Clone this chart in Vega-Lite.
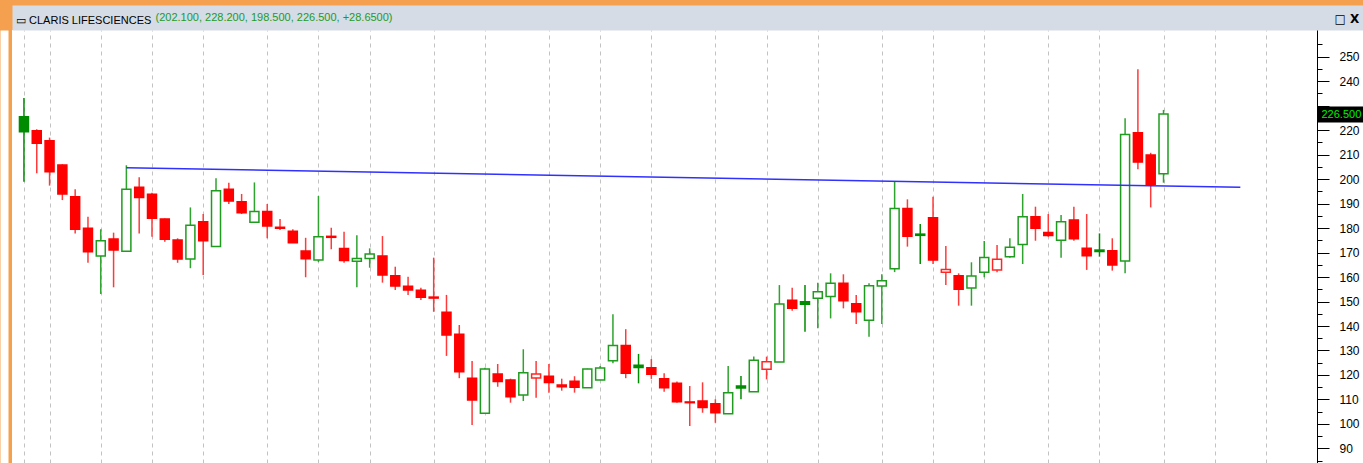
{
  "$schema": "https://vega.github.io/schema/vega-lite/v6.json",
  "width": 1351,
  "height": 433,
  "autosize": {"type": "none"},
  "padding": {"left": 12, "top": 30, "right": 0, "bottom": 0},
  "background": "#f5a04f",
  "config": {"view": {"fill": "white", "stroke": null}},
  "title": {
    "text": "▭ CLARIS LIFESCIENCES",
    "anchor": "start",
    "frame": "group",
    "orient": "top",
    "font": "'Liberation Sans', Arial, sans-serif",
    "fontSize": 11,
    "fontWeight": "normal",
    "color": "#000000",
    "baseline": "middle",
    "offset": 0,
    "dx": 4,
    "dy": 20
  },
  "datasets": {
    "candles": [
      {"i":0,"open":225.4,"high":233.1,"low":198.9,"close":219.3},
      {"i":1,"open":219.7,"high":220.3,"low":202.3,"close":214.6},
      {"i":2,"open":215.6,"high":216.9,"low":197.3,"close":203.0},
      {"i":3,"open":205.7,"high":206.0,"low":191.4,"close":193.9},
      {"i":4,"open":192.8,"high":195.8,"low":177.8,"close":179.5},
      {"i":5,"open":179.9,"high":184.6,"low":165.8,"close":170.3},
      {"i":6,"open":168.6,"high":179.5,"low":153.1,"close":174.8},
      {"i":7,"open":175.5,"high":178.1,"low":155.8,"close":171.0},
      {"i":8,"open":170.5,"high":205.6,"low":170.5,"close":195.8},
      {"i":9,"open":196.6,"high":200.7,"low":177.8,"close":192.5},
      {"i":10,"open":193.8,"high":194.4,"low":176.4,"close":184.0},
      {"i":11,"open":183.7,"high":183.9,"low":174.4,"close":175.4},
      {"i":12,"open":175.1,"high":175.8,"low":165.8,"close":167.3},
      {"i":13,"open":167.3,"high":188.4,"low":163.6,"close":181.1},
      {"i":14,"open":182.6,"high":185.7,"low":160.8,"close":174.8},
      {"i":15,"open":172.4,"high":200.3,"low":172.4,"close":195.2},
      {"i":16,"open":195.8,"high":198.5,"low":189.8,"close":191.0},
      {"i":17,"open":190.7,"high":193.9,"low":185.7,"close":186.2},
      {"i":18,"open":182.3,"high":198.6,"low":182.3,"close":186.7},
      {"i":19,"open":186.7,"high":189.8,"low":175.8,"close":180.8},
      {"i":20,"open":180.3,"high":183.7,"low":179.2,"close":179.9},
      {"i":21,"open":178.7,"high":179.5,"low":174.0,"close":174.0},
      {"i":22,"open":170.6,"high":176.0,"low":159.9,"close":167.5},
      {"i":23,"open":166.9,"high":193.1,"low":166.1,"close":176.4},
      {"i":24,"open":176.6,"high":180.1,"low":171.3,"close":176.2},
      {"i":25,"open":171.6,"high":178.5,"low":165.8,"close":166.7},
      {"i":26,"open":166.4,"high":177.0,"low":155.8,"close":167.6},
      {"i":27,"open":167.6,"high":171.7,"low":163.8,"close":169.4},
      {"i":28,"open":168.6,"high":176.7,"low":157.7,"close":160.8},
      {"i":29,"open":160.5,"high":164.2,"low":154.7,"close":156.3},
      {"i":30,"open":156.2,"high":160.1,"low":152.7,"close":154.7},
      {"i":31,"open":154.6,"high":155.6,"low":150.6,"close":151.7},
      {"i":32,"open":151.8,"high":167.9,"low":145.8,"close":151.4},
      {"i":33,"open":145.6,"high":152.7,"low":127.8,"close":136.3},
      {"i":34,"open":136.6,"high":140.4,"low":118.7,"close":121.3},
      {"i":35,"open":118.7,"high":125.7,"low":99.6,"close":109.8},
      {"i":36,"open":104.4,"high":123.0,"low":104.4,"close":122.4},
      {"i":37,"open":120.4,"high":124.5,"low":115.2,"close":117.3},
      {"i":38,"open":118.0,"high":118.5,"low":108.7,"close":111.1},
      {"i":39,"open":111.8,"high":130.5,"low":109.4,"close":120.9},
      {"i":40,"open":118.8,"high":125.7,"low":110.7,"close":120.4},
      {"i":41,"open":119.5,"high":124.5,"low":112.8,"close":116.9},
      {"i":42,"open":115.9,"high":118.5,"low":113.6,"close":115.2},
      {"i":43,"open":117.4,"high":119.5,"low":112.8,"close":115.0},
      {"i":44,"open":114.8,"high":122.6,"low":114.8,"close":122.4},
      {"i":45,"open":118.0,"high":123.7,"low":118.0,"close":122.9},
      {"i":46,"open":125.8,"high":144.8,"low":124.8,"close":132.0},
      {"i":47,"open":132.0,"high":138.7,"low":118.7,"close":120.7},
      {"i":48,"open":124.0,"high":128.6,"low":116.6,"close":123.1},
      {"i":49,"open":123.0,"high":126.5,"low":118.4,"close":120.3},
      {"i":50,"open":118.5,"high":120.7,"low":113.2,"close":114.8},
      {"i":51,"open":116.6,"high":117.3,"low":108.7,"close":109.1},
      {"i":52,"open":109.0,"high":115.5,"low":99.2,"close":108.7},
      {"i":53,"open":109.4,"high":117.0,"low":104.6,"close":106.7},
      {"i":54,"open":108.3,"high":110.1,"low":100.5,"close":104.6},
      {"i":55,"open":104.2,"high":123.7,"low":104.2,"close":112.8},
      {"i":56,"open":115.5,"high":119.6,"low":110.1,"close":114.7},
      {"i":57,"open":113.2,"high":127.5,"low":113.2,"close":126.0},
      {"i":58,"open":122.3,"high":127.5,"low":118.2,"close":125.4},
      {"i":59,"open":125.3,"high":156.7,"low":125.3,"close":149.0},
      {"i":60,"open":150.5,"high":155.6,"low":146.2,"close":147.2},
      {"i":61,"open":149.9,"high":156.7,"low":137.7,"close":148.9},
      {"i":62,"open":151.3,"high":157.7,"low":139.1,"close":154.0},
      {"i":63,"open":152.0,"high":161.5,"low":143.1,"close":157.4},
      {"i":64,"open":157.4,"high":161.1,"low":147.2,"close":150.3},
      {"i":65,"open":149.1,"high":152.7,"low":140.8,"close":145.8},
      {"i":66,"open":142.3,"high":157.4,"low":135.6,"close":156.4},
      {"i":67,"open":156.3,"high":161.1,"low":140.8,"close":158.5},
      {"i":68,"open":163.4,"high":198.9,"low":162.0,"close":188.0},
      {"i":69,"open":188.0,"high":191.7,"low":172.4,"close":176.6},
      {"i":70,"open":177.5,"high":181.6,"low":165.3,"close":177.0},
      {"i":71,"open":184.2,"high":192.8,"low":165.3,"close":166.9},
      {"i":72,"open":161.9,"high":172.7,"low":156.7,"close":163.1},
      {"i":73,"open":160.5,"high":161.5,"low":148.3,"close":155.0},
      {"i":74,"open":155.5,"high":166.0,"low":148.3,"close":160.4},
      {"i":75,"open":161.9,"high":174.7,"low":159.9,"close":168.0},
      {"i":76,"open":162.9,"high":173.1,"low":161.9,"close":167.2},
      {"i":77,"open":168.3,"high":175.8,"low":167.9,"close":172.1},
      {"i":78,"open":173.3,"high":193.9,"low":165.3,"close":184.6},
      {"i":79,"open":184.6,"high":188.7,"low":174.8,"close":179.9},
      {"i":80,"open":178.2,"high":185.7,"low":176.4,"close":176.9},
      {"i":81,"open":175.0,"high":185.3,"low":167.9,"close":182.6},
      {"i":82,"open":183.3,"high":188.7,"low":174.8,"close":175.6},
      {"i":83,"open":171.7,"high":185.7,"low":162.9,"close":168.7},
      {"i":84,"open":171.0,"high":177.8,"low":168.3,"close":170.4},
      {"i":85,"open":170.7,"high":175.8,"low":162.6,"close":164.9},
      {"i":86,"open":166.5,"high":224.8,"low":161.5,"close":218.2},
      {"i":87,"open":218.9,"high":244.8,"low":204.0,"close":206.9},
      {"i":88,"open":209.8,"high":210.7,"low":188.4,"close":197.85},
      {"i":89,"open":202.1,"high":228.2,"low":198.5,"close":226.5}
    ],
    "trend": [
      {"i": 8, "v": 204.6},
      {"i": 95, "v": 196.6}
    ]
  },
  "data": {"name": "candles"},
  "transform": [
    {"window": [{"op": "lag", "field": "close", "as": "prev"}], "sort": [{"field": "i", "order": "ascending"}]},
    {"calculate": "(datum.close >= datum.open ? 'up' : 'dn') + (datum.prev == null || datum.close >= datum.prev ? 'G' : 'R')", "as": "kind"}
  ],
  "encoding": {
    "x": {
      "field": "i",
      "type": "quantitative",
      "scale": {"domain": [-0.543, 104.19], "nice": false, "zero": false},
      "axis": {
        "orient": "top",
        "values": [0, 2, 6, 10, 14, 19, 23, 27, 32, 36, 41, 45, 49, 54, 58, 62, 67, 71, 75, 80, 84, 89, 93, 97],
        "labels": false,
        "ticks": false,
        "grid": true,
        "gridColor": "#c2c2c2",
        "gridDash": [4, 4],
        "gridWidth": 1,
        "domain": true,
        "domainColor": "#d5dce6",
        "domainWidth": 25,
        "offset": 12.5,
        "title": "(202.100, 228.200, 198.500, 226.500, +28.6500)",
        "titleColor": "#1e9a1e",
        "titleFont": "'Liberation Sans', Arial, sans-serif",
        "titleFontSize": 11,
        "titleFontWeight": "normal",
        "titleAngle": 0,
        "titleAlign": "left",
        "titleBaseline": "middle",
        "titleX": 143,
        "titleY": 0
      }
    }
  },
  "layer": [
    {
      "mark": {"type": "rule", "strokeWidth": 1.5},
      "encoding": {
        "y": {
          "field": "low",
          "type": "quantitative",
          "scale": {"domain": [84.08, 260.82], "nice": false, "zero": false},
          "axis": {
            "orient": "right",
            "offset": -46,
            "values": [85, 90, 95, 100, 105, 110, 115, 120, 125, 130, 135, 140, 145, 150, 155, 160, 165, 170, 175, 180, 185, 190, 195, 200, 205, 210, 215, 220, 225, 230, 235, 240, 245, 250, 255, 226.5],
            "domain": true,
            "domainColor": "#000000",
            "domainWidth": 1,
            "grid": false,
            "ticks": true,
            "tickColor": "#000000",
            "tickWidth": {"condition": {"test": "datum.value == 226.5", "value": 16}, "value": 1},
            "tickSize": {"condition": [{"test": "datum.value == 226.5", "value": 46}, {"test": "datum.value % 10 == 0", "value": 12}], "value": 5},
            "labelPadding": {"condition": [{"test": "datum.value == 226.5", "value": -42}, {"test": "datum.value % 10 == 0", "value": 10}], "value": 17},
            "labelColor": {"condition": {"test": "datum.value == 226.5", "value": "#00f000"}, "value": "#000000"},
            "labelFontSize": {"condition": {"test": "datum.value == 226.5", "value": 11}, "value": 12},
            "labelFont": "'Liberation Sans', Arial, sans-serif",
            "labelAlign": "left",
            "labelOverlap": false,
            "labelFlush": false,
            "labelExpr": "datum.value == 226.5 ? '226.500' : (datum.value % 10 == 0 && datum.value != 230 ? format(datum.value, 'd') : '')",
            "title": null
          }
        },
        "y2": {"field": "high"},
        "color": {
          "field": "kind",
          "type": "nominal",
          "scale": {"domain": ["upG", "upR", "dnG", "dnR"], "range": ["#2ea32e", "#ff3a3a", "#008c00", "#ff3a3a"]},
          "legend": null
        }
      }
    },
    {
      "mark": {"type": "bar", "width": 9, "strokeWidth": 1.5},
      "encoding": {
        "y": {
          "field": "open",
          "type": "quantitative",
          "scale": {"domain": [84.08, 260.82], "nice": false, "zero": false},
          "axis": {
            "orient": "left",
            "offset": 8,
            "domain": true,
            "domainColor": "#ffffff",
            "domainWidth": 8,
            "ticks": false,
            "labels": false,
            "grid": false,
            "title": "□ X",
            "titleColor": "#000000",
            "titleFont": "DejaVu Sans",
            "titleFontSize": 12,
            "titleFontWeight": "bold",
            "titleAngle": 0,
            "titleAlign": "left",
            "titleBaseline": "middle",
            "titleX": 1330,
            "titleY": -12
          }
        },
        "y2": {"field": "close"},
        "fill": {
          "field": "kind",
          "type": "nominal",
          "scale": {"domain": ["upG", "upR", "dnG", "dnR"], "range": ["#ffffff", "#ffffff", "#008c00", "#ff0000"]},
          "legend": null
        },
        "stroke": {
          "field": "kind",
          "type": "nominal",
          "scale": {"domain": ["upG", "upR", "dnG", "dnR"], "range": ["#1f9c1f", "#ff2626", "#008c00", "#ff0000"]},
          "legend": null
        }
      }
    },
    {
      "data": {"name": "trend"},
      "mark": {"type": "line", "color": "#3030ff", "strokeWidth": 1.5},
      "encoding": {
        "y": {
          "field": "v",
          "type": "quantitative",
          "scale": {"domain": [84.08, 260.82], "nice": false, "zero": false},
          "axis": null
        }
      }
    }
  ],
  "resolve": {"axis": {"y": "independent"}}
}
